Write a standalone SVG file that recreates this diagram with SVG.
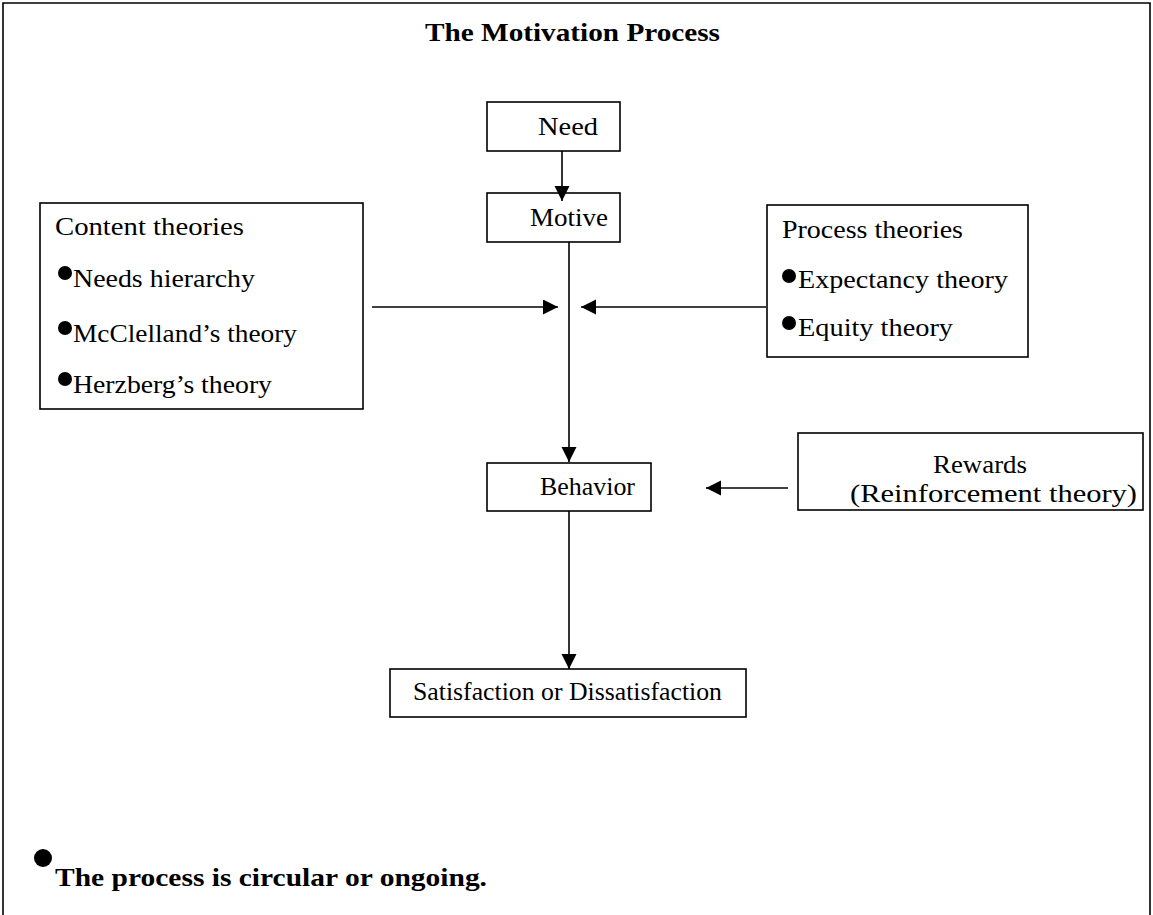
<svg xmlns="http://www.w3.org/2000/svg" width="1153" height="915" viewBox="0 0 1153 915">
<style>
text{font-family:"Liberation Serif","DejaVu Serif",serif;font-size:26px;fill:#000}
.b{font-weight:bold}
.box{fill:#fff;stroke:#000;stroke-width:1.6}
.ln{stroke:#000;stroke-width:1.6;fill:none}
.dot{fill:#000}
</style>
<defs>
<marker id="ah" markerUnits="userSpaceOnUse" markerWidth="16" markerHeight="16" refX="15" refY="7.5" orient="auto">
<path d="M0,0 L15,7.5 L0,15 Z" fill="#000"/>
</marker>
</defs>
<rect width="1153" height="915" fill="#fff"/>
<path class="ln" d="M3,915 V3 H1150 V915" stroke-width="2"/>
<text class="b" x="425" y="41" textLength="295" lengthAdjust="spacingAndGlyphs">The Motivation Process</text>
<g id="need">
<rect class="box" x="487" y="102" width="133" height="49"/>
<text x="538" y="135" textLength="60" lengthAdjust="spacingAndGlyphs">Need</text>
</g>
<g id="motive">
<rect class="box" x="487" y="193" width="133" height="49"/>
<text x="530" y="226" textLength="78" lengthAdjust="spacingAndGlyphs">Motive</text>
</g>
<g id="content">
<rect class="box" x="40" y="203" width="323" height="206"/>
<text x="55" y="235" textLength="189" lengthAdjust="spacingAndGlyphs">Content theories</text>
<circle class="dot" cx="65" cy="273" r="7"/>
<text x="73" y="287" textLength="182" lengthAdjust="spacingAndGlyphs">Needs hierarchy</text>
<circle class="dot" cx="65" cy="328" r="7"/>
<text x="73" y="342" textLength="224" lengthAdjust="spacingAndGlyphs">McClelland’s theory</text>
<circle class="dot" cx="65" cy="379" r="7"/>
<text x="73" y="393" textLength="199" lengthAdjust="spacingAndGlyphs">Herzberg’s theory</text>
</g>
<g id="process">
<rect class="box" x="767" y="205" width="261" height="152"/>
<text x="782" y="238" textLength="181" lengthAdjust="spacingAndGlyphs">Process theories</text>
<circle class="dot" cx="789" cy="276" r="7"/>
<text x="798" y="288" textLength="210" lengthAdjust="spacingAndGlyphs">Expectancy theory</text>
<circle class="dot" cx="789" cy="323" r="7"/>
<text x="798" y="336" textLength="155" lengthAdjust="spacingAndGlyphs">Equity theory</text>
</g>
<g id="behavior">
<rect class="box" x="487" y="463" width="164" height="48"/>
<text x="540" y="495" textLength="95" lengthAdjust="spacingAndGlyphs">Behavior</text>
</g>
<g id="rewards">
<rect class="box" x="798" y="433" width="345" height="77"/>
<text x="933" y="473" textLength="94" lengthAdjust="spacingAndGlyphs">Rewards</text>
<text x="850" y="502" textLength="287" lengthAdjust="spacingAndGlyphs">(Reinforcement theory)</text>
</g>
<g id="satisfaction">
<rect class="box" x="390" y="669" width="356" height="48"/>
<text x="413" y="700" textLength="309" lengthAdjust="spacingAndGlyphs">Satisfaction or Dissatisfaction</text>
</g>
<g id="note">
<circle class="dot" cx="43" cy="858" r="9"/>
<text class="b" x="55" y="886" textLength="432" lengthAdjust="spacingAndGlyphs">The process is circular or ongoing.</text>
</g>
<g id="connectors">
<line class="ln" x1="562" y1="151" x2="562" y2="201" marker-end="url(#ah)"/>
<line class="ln" x1="569" y1="242" x2="569" y2="462" marker-end="url(#ah)"/>
<line class="ln" x1="372" y1="307" x2="558" y2="307" marker-end="url(#ah)"/>
<line class="ln" x1="766" y1="307" x2="581" y2="307" marker-end="url(#ah)"/>
<line class="ln" x1="788" y1="488" x2="706" y2="488" marker-end="url(#ah)"/>
<line class="ln" x1="569" y1="511" x2="569" y2="669" marker-end="url(#ah)"/>
</g>
</svg>
